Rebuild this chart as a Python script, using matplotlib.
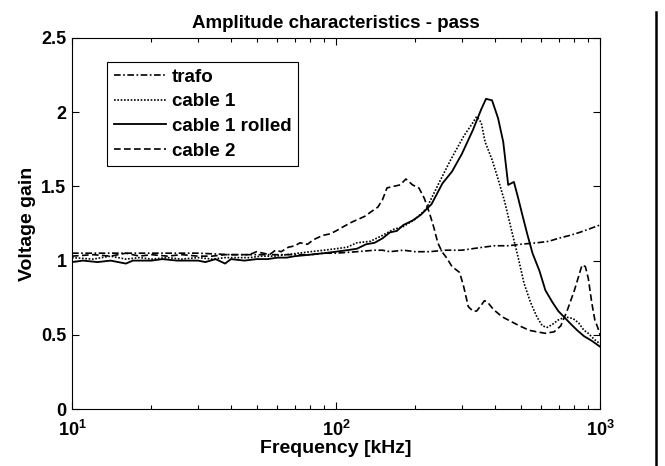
import matplotlib
matplotlib.use("Agg")
import matplotlib.pyplot as plt
from matplotlib.lines import Line2D
from matplotlib.ticker import FixedLocator, LogLocator, NullFormatter

plt.rcParams['font.family'] = ['Liberation Sans', 'DejaVu Sans']
plt.rcParams['font.weight'] = 'bold'
plt.rcParams['mathtext.fontset'] = 'custom'
plt.rcParams['mathtext.rm'] = 'Liberation Sans:bold'
plt.rcParams['mathtext.bf'] = 'Liberation Sans:bold'
plt.rcParams['mathtext.default'] = 'bf'

# ---- data ----
f_rolled = [10, 11, 12.5, 14, 16, 17, 18, 20, 22, 25, 28, 30, 32, 35, 38, 40, 45, 50, 55, 60, 65, 70, 80, 90,
            100, 110, 120, 130, 140, 150, 160, 170, 180, 195, 210, 230, 253, 275, 300, 330, 355, 370, 390,
            411, 430, 449, 460, 472, 490, 506, 530, 555, 590, 621, 660, 695, 740, 778, 820, 871, 930, 1000]
v_rolled = [0.99, 1.00, 0.99, 1.00, 0.98, 1.00, 1.00, 1.00, 1.01, 1.00, 1.00, 1.00, 0.99, 1.01, 0.98, 1.01,
            1.00, 1.01, 1.01, 1.02, 1.02, 1.03, 1.04, 1.05, 1.06, 1.07, 1.08, 1.11, 1.12, 1.15, 1.19, 1.20,
            1.24, 1.27, 1.31, 1.38, 1.52, 1.60, 1.72, 1.88, 2.02, 2.09, 2.08, 1.96, 1.80, 1.51, 1.52, 1.53,
            1.42, 1.32, 1.18, 1.05, 0.93, 0.80, 0.72, 0.66, 0.61, 0.57, 0.53, 0.49, 0.46, 0.42]

f_cable1 = [10, 12, 14, 16, 18, 20, 23, 26, 30, 34, 38, 42, 47, 52, 58, 65, 72, 80, 90, 100, 110, 120, 135,
            150, 165, 180, 200, 220, 245, 272, 305, 330, 341, 355, 367, 390, 411, 435, 460, 490, 515, 545,
            577, 605, 632, 660, 695, 740, 790, 830, 870, 903, 950, 1000]
v_cable1 = [1.02, 1.01, 1.03, 1.01, 1.02, 1.01, 1.02, 1.01, 1.02, 1.01, 1.02, 1.02, 1.02, 1.03, 1.03, 1.04,
            1.05, 1.06, 1.07, 1.08, 1.09, 1.12, 1.13, 1.17, 1.21, 1.23, 1.28, 1.35, 1.52, 1.68, 1.84, 1.93,
            1.97, 1.93, 1.80, 1.68, 1.55, 1.40, 1.22, 1.02, 0.85, 0.72, 0.62, 0.56, 0.55, 0.57, 0.60, 0.62,
            0.61, 0.58, 0.53, 0.51, 0.47, 0.44]

f_cable2 = [10, 12, 14, 16, 18, 20, 23, 26, 30, 34, 38, 42, 47, 50, 53, 56, 59, 62, 66, 70, 73, 78, 82, 89,
            95, 100, 107, 115, 122, 129, 136, 144, 150, 156, 165, 175, 184, 195, 206, 216, 226, 235, 243,
            252, 262, 275, 294, 305, 317, 330, 341, 355, 365, 375, 395, 427, 460, 496, 540, 577, 620, 670,
            710, 750, 800, 855, 880, 903, 930, 956, 980, 1000]
v_cable2 = [1.03, 1.04, 1.03, 1.05, 1.03, 1.04, 1.03, 1.04, 1.03, 1.03, 1.04, 1.04, 1.04, 1.06, 1.05, 1.04,
            1.07, 1.06, 1.09, 1.10, 1.12, 1.11, 1.14, 1.17, 1.18, 1.20, 1.23, 1.26, 1.28, 1.30, 1.33, 1.36,
            1.41, 1.49, 1.50, 1.51, 1.55, 1.51, 1.49, 1.42, 1.32, 1.22, 1.12, 1.06, 1.02, 0.96, 0.92, 0.82,
            0.69, 0.66, 0.66, 0.70, 0.73, 0.72, 0.67, 0.62, 0.59, 0.56, 0.53, 0.52, 0.51, 0.52, 0.56, 0.66,
            0.80, 0.97, 0.96, 0.88, 0.72, 0.60, 0.55, 0.50]

f_trafo = [10, 15, 20, 30, 40, 50, 60, 70, 80, 90, 100, 120, 140, 150, 160, 180, 200, 226, 260, 300, 328,
           360, 398, 450, 500, 577, 640, 695, 770, 837, 900, 1000]
v_trafo = [1.05, 1.05, 1.05, 1.05, 1.04, 1.04, 1.04, 1.04, 1.04, 1.05, 1.05, 1.06, 1.07, 1.07, 1.06, 1.07,
           1.06, 1.06, 1.07, 1.07, 1.08, 1.09, 1.10, 1.10, 1.11, 1.12, 1.13, 1.15, 1.17, 1.19, 1.21, 1.24]

labels = ['trafo', 'cable 1', 'cable 1 rolled', 'cable 2']
yticks = [0, 0.5, 1, 1.5, 2, 2.5]
yticklabels = ['0', '0.5', '1', '1.5', '2', '2.5']
xticks = [10, 100, 1000]
xticklabels = [r'$10^{1}$', r'$10^{2}$', r'$10^{3}$']

fig = plt.figure(figsize=(6.65, 4.66), dpi=100)
ax = fig.add_axes([72/665, 1-409/466, 528/665, 371/466])

lw = 1.2
ax.plot(f_trafo, v_trafo, color='black', lw=lw, linestyle=(0, (4, 1.5, 1, 1.5)), label=labels[0])
ax.plot(f_cable1, v_cable1, color='black', lw=lw, linestyle=(0, (1, 1)), label=labels[1])
ax.plot(f_rolled, v_rolled, color='black', lw=lw*1.1, linestyle='-', label=labels[2])
ax.plot(f_cable2, v_cable2, color='black', lw=lw, linestyle=(0, (4, 2)), label=labels[3])

ax.set_xscale('log')
ax.set_xlim(10, 1000)
ax.set_ylim(0, 2.5)
ax.xaxis.set_major_locator(FixedLocator(xticks))
ax.set_xticklabels(xticklabels)
ax.xaxis.set_minor_locator(LogLocator(base=10, subs=range(2, 10)))
ax.xaxis.set_minor_formatter(NullFormatter())
ax.set_yticks(yticks)
ax.set_yticklabels(yticklabels)
ax.tick_params(which='both', direction='in', top=True, right=True, labelsize=13, width=0.8)
ax.tick_params(which='major', length=5)
ax.tick_params(which='minor', length=3)
ax.tick_params(axis='x', pad=8)
ax.tick_params(axis='y', pad=4)
for s in ax.spines.values():
    s.set_linewidth(0.8)

ax.set_xlabel('Frequency [kHz]', fontsize=14, fontweight='bold', labelpad=0)
ax.set_ylabel('Voltage gain', fontsize=14, fontweight='bold', labelpad=4)
ax.set_title('Amplitude characteristics - pass', fontsize=13.5, fontweight='bold', pad=7)

leg = ax.legend(loc='upper left', bbox_to_anchor=((107-72)/528, (409-62)/371), borderaxespad=0,
                fancybox=False, edgecolor='black', framealpha=1, handlelength=2.8,
                prop={'size': 13.5, 'weight': 'bold'}, labelspacing=0.4, handletextpad=0.3,
                borderpad=0.35)
leg.get_frame().set_linewidth(0.8)

fig.add_artist(Line2D([656/665, 656/665], [0, 1-12/466], transform=fig.transFigure, color='black', lw=1.8))

fig.savefig('out.png', dpi=100)
